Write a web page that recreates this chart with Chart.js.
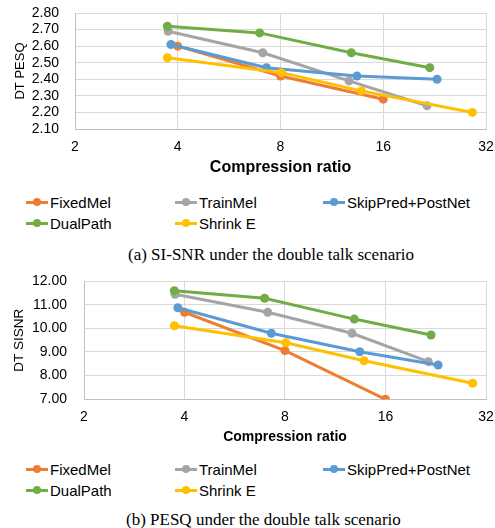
<!DOCTYPE html>
<html>
<head>
<meta charset="utf-8">
<script src="https://cdn.jsdelivr.net/npm/chart.js@4/dist/chart.umd.min.js"></script>
<style>
  html, body { margin: 0; padding: 0; background: #fff; }
  body { width: 495px; height: 528px; position: relative; overflow: hidden; font-family: "Liberation Sans", Arial, sans-serif; }
  canvas { position: absolute; left: 0; }
  #c1 { top: 0; }
  #c2 { top: 266px; }
  .legend { position: absolute; left: 0; width: 495px; height: 44px; }
  .item { position: absolute; height: 20px; display: flex; align-items: center; font-size: 15px; color: #000; white-space: nowrap; }
  .mk { position: relative; width: 22px; height: 20px; margin-right: 2px; }
  .mk .ln { position: absolute; left: 0; top: 8.5px; width: 22px; height: 3px; }
  .mk .dt { position: absolute; left: 7px; top: 6px; width: 8px; height: 8px; border-radius: 50%; }
  .cap { position: absolute; font-family: "Liberation Serif", "Times New Roman", serif; font-size: 17px; color: #000; white-space: nowrap; }
</style>
</head>
<body>
<canvas id="c1" width="495" height="180"></canvas>
<div class="legend" id="lg1" style="top:192px"></div>
<div class="cap" style="left:128px; top:245px">(a) SI-SNR under the double talk scenario</div>
<canvas id="c2" width="495" height="180"></canvas>
<div class="legend" id="lg2" style="top:459px"></div>
<div class="cap" style="left:126px; top:510px">(b) PESQ under the double talk scenario</div>
<script>
// ---- data ----
const seriesNames = ["FixedMel", "TrainMel", "SkipPred+PostNet", "DualPath", "Shrink E"];
const seriesColors = ["#ED7D31", "#A5A5A5", "#5B9BD5", "#70AD47", "#FFC000"];
const xTicks = [2, 4, 8, 16, 32];

// compression ratios (x) per series
const xFixedMel = [4.0, 8.0, 16.0];
const xTrainMel = [3.75, 7.1, 12.7, 21.5];
const xSkipPred = [3.82, 7.28, 13.4, 23.0];
const xDualPath = [3.73, 6.95, 12.9, 21.9];
const xShrinkE  = [3.73, 8.05, 13.8, 29.2];

// (a) DT PESQ
const pesqFixedMel = [2.60, 2.42, 2.28];
const pesqTrainMel = [2.69, 2.56, 2.39, 2.24];
const pesqSkipPred = [2.61, 2.47, 2.42, 2.40];
const pesqDualPath = [2.72, 2.68, 2.56, 2.47];
const pesqShrinkE  = [2.53, 2.44, 2.33, 2.20];
const pesqTicks = [2.10, 2.20, 2.30, 2.40, 2.50, 2.60, 2.70, 2.80];

// (b) DT SISNR
const sisnrFixedMel = [10.68, 9.06, 7.00];
const sisnrTrainMel = [11.44, 10.68, 9.79, 8.59];
const sisnrSkipPred = [10.87, 9.79, 9.01, 8.45];
const sisnrDualPath = [11.59, 11.27, 10.39, 9.72];
const sisnrShrinkE  = [10.11, 9.39, 8.63, 7.68];
const sisnrTicks = [7, 8, 9, 10, 11, 12];

const xs = [xFixedMel, xTrainMel, xSkipPred, xDualPath, xShrinkE];

function pts(xArr, yArr) { return xArr.map((x, i) => ({ x: x, y: yArr[i] })); }

function makeDatasets(ys) {
  return seriesNames.map((name, i) => ({
    label: name,
    data: pts(xs[i], ys[i]),
    borderColor: seriesColors[i],
    backgroundColor: seriesColors[i],
    borderWidth: 3,
    pointRadius: 4.5,
    pointHoverRadius: 4.5,
    pointBorderWidth: 0,
    order: seriesNames.length - i,
    tension: 0
  }));
}

const tickFont = { family: "Liberation Sans", size: 14 };

function makeChart(id, ys, yTicks, yTitle, cfg) {
  return new Chart(document.getElementById(id), {
    type: 'line',
    data: { datasets: makeDatasets(ys) },
    options: {
      responsive: false,
      animation: false,
      events: [],
      layout: { padding: { left: 0, right: cfg.padRight, top: cfg.padTop, bottom: 0 } },
      plugins: { legend: { display: false }, tooltip: { enabled: false } },
      scales: {
        x: {
          type: 'logarithmic',
          min: xTicks[0], max: xTicks[xTicks.length - 1],
          afterBuildTicks: (s) => { s.ticks = xTicks.map(v => ({ value: v })); },
          afterFit: (s) => { s.height = cfg.xHeight; },
          grid: { color: '#D9D9D9', lineWidth: 1, drawTicks: true, tickLength: cfg.xTickLen, tickColor: 'rgba(0,0,0,0)' },
          border: { color: '#BFBFBF', width: 1 },
          ticks: { font: tickFont, color: '#000', padding: 0, maxRotation: 0, autoSkip: false,
                   callback: (v) => String(v) },
          title: { display: true, text: 'Compression ratio', color: '#000',
                   font: { family: "Liberation Sans", size: cfg.xTitleSize, weight: 'bold' },
                   padding: { top: 0, bottom: cfg.xTitlePad } }
        },
        y: {
          min: yTicks[0], max: yTicks[yTicks.length - 1],
          afterBuildTicks: (s) => { s.ticks = yTicks.map(v => ({ value: v })); },
          afterFit: (s) => { s.width = cfg.yWidth; },
          grid: { color: '#D9D9D9', lineWidth: 1, drawTicks: true, tickLength: cfg.yTickLen, tickColor: 'rgba(0,0,0,0)' },
          border: { color: '#BFBFBF', width: 1 },
          ticks: { font: tickFont, color: '#000', padding: 0, autoSkip: false,
                   callback: (v) => Number(v).toFixed(2) },
          title: { display: true, text: yTitle, color: '#000',
                   font: { family: "Liberation Sans", size: cfg.yTitleSize },
                   padding: { top: cfg.yTitlePad, bottom: 0 } }
        }
      }
    }
  });
}

makeChart('c1',
  [pesqFixedMel, pesqTrainMel, pesqSkipPred, pesqDualPath, pesqShrinkE],
  pesqTicks, 'DT PESQ',
  { padRight: 9, padTop: 13, xHeight: 51, yWidth: 75, xTickLen: 10, yTickLen: 16,
    xTitleSize: 16, xTitlePad: 2.4, yTitleSize: 13, yTitlePad: 13 });

makeChart('c2',
  [sisnrFixedMel, sisnrTrainMel, sisnrSkipPred, sisnrDualPath, sisnrShrinkE],
  sisnrTicks, 'DT SISNR',
  { padRight: 9, padTop: 15, xHeight: 46.7, yWidth: 84, xTickLen: 9, yTickLen: 17,
    xTitleSize: 14, xTitlePad: 0.5, yTitleSize: 13.5, yTitlePad: 11 });

// ---- HTML legends ----
const legendCols = [26, 175, 323];
function buildLegend(id) {
  const el = document.getElementById(id);
  seriesNames.forEach((name, i) => {
    const row = Math.floor(i / 3), col = i % 3;
    const d = document.createElement('div');
    d.className = 'item';
    d.style.left = legendCols[col] + 'px';
    d.style.top = (row * 21) + 'px';
    d.innerHTML = '<span class="mk"><span class="ln" style="background:' + seriesColors[i] +
      '"></span><span class="dt" style="background:' + seriesColors[i] + '"></span></span>' +
      '<span></span>';
    d.lastChild.textContent = name;
    el.appendChild(d);
  });
}
buildLegend('lg1');
buildLegend('lg2');
</script>
</body>
</html>
